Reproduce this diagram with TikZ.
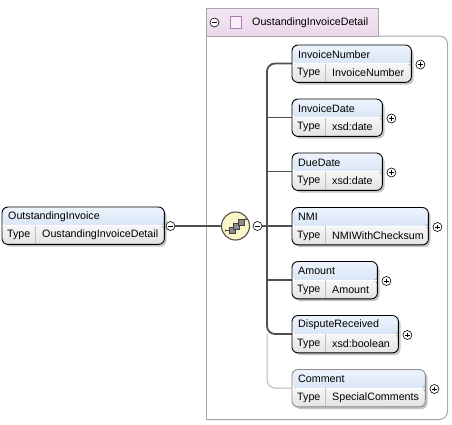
\documentclass[tikz,border=0pt]{standalone}
\usepackage{fontspec}
\setmainfont{Liberation Sans}
\usetikzlibrary{calc}
\pgfdeclarelayer{background}
\pgfsetlayers{background,main}
\definecolor{hdrtop}{HTML}{EEF4FC}
\definecolor{hdrbot}{HTML}{C5D8F1}
\definecolor{typetop}{HTML}{F6F6F6}
\definecolor{typebot}{HTML}{E2E2E2}
\definecolor{shadowc}{HTML}{C4C4C4}
\definecolor{framec}{HTML}{A8A8A8}
\definecolor{tabtop}{HTML}{F3E7F3}
\definecolor{tabbot}{HTML}{E9D6EA}
\definecolor{tabsq}{HTML}{B07CB0}
\definecolor{tabsqfill}{HTML}{F8F0F8}
\definecolor{seqfill}{HTML}{FAF6C6}
\definecolor{treec}{HTML}{505050}
\definecolor{optc}{HTML}{B8B8B8}
\definecolor{optbox}{HTML}{8C8C8C}
\tikzset{
  x=1pt, y=-1pt,
  lbl/.style={inner sep=0pt, anchor=west, font=\fontsize{10.7}{12}\selectfont},
  elem/.style={rectangle, rounded corners=6pt, inner sep=0pt, anchor=north west},
  expc/.style={circle, draw=black, fill=white, line width=0.6pt, minimum size=9pt, inner sep=0pt},
  pluss/.style={expc, path picture={
      \draw[line width=0.6pt] ([xshift=-2.3pt]path picture bounding box.center) -- ([xshift=2.3pt]path picture bounding box.center);
      \draw[line width=0.6pt] ([yshift=-2.3pt]path picture bounding box.center) -- ([yshift=2.3pt]path picture bounding box.center);}},
  minuss/.style={expc, path picture={
      \draw[line width=0.6pt] ([xshift=-2.3pt]path picture bounding box.center) -- ([xshift=2.3pt]path picture bounding box.center);}},
  tree/.style={draw=treec, line width=1.8pt},
  conn/.style={draw=treec, line width=1.2pt},
  optline/.style={draw=optc, line width=1pt},
  framel/.style={draw=framec, line width=1pt},
}
% #1 name, #2 x, #3 y, #4 width, #5 title, #6 type, #7 border colour
\newcommand{\elembox}[7]{%
  \fill[shadowc, rounded corners=6pt] (#2+2.5,#3+2.5) rectangle ++(#4,37);
  \node[elem, minimum width=#4pt, minimum height=37pt,
    path picture={
      \shade[top color=hdrtop, bottom color=hdrbot] ([yshift=1pt]path picture bounding box.north west) rectangle ([yshift=-18.5pt]path picture bounding box.north east);
      \shade[top color=typetop, bottom color=typebot] ([yshift=-18.5pt]path picture bounding box.north west) rectangle ([yshift=-1pt]path picture bounding box.south east);
      \draw[white, line width=0.8pt] ([yshift=-18.5pt]path picture bounding box.north west) -- ([yshift=-18.5pt]path picture bounding box.north east);
      \draw[black!25, line width=0.6pt] ([xshift=33pt,yshift=-18.5pt]path picture bounding box.north west) -- ([xshift=33pt]path picture bounding box.south west);
    }] (#1) at (#2,#3) {};
  \draw[draw=#7, line width=0.9pt, rounded corners=6pt] (#1.north west) rectangle (#1.south east);
  \node[lbl] (#1-name) at ([xshift=6pt,yshift=-9.5pt]#1.north west) {#5};
  \node[lbl] (#1-tl) at ([xshift=5pt,yshift=-28pt]#1.north west) {Type};
  \node[lbl] (#1-tv) at ([xshift=40pt,yshift=-28pt]#1.north west) {#6};
  \coordinate (#1-b) at ([yshift=-18.5pt]#1.north west);
}
\begin{document}
\begin{tikzpicture}
\useasboundingbox (0,0) rectangle (452,424);
\begin{pgfonlayer}{background}
\fill[white] (0,0) rectangle (452,424);
\end{pgfonlayer}

% group frame and tab
\draw[framel, rounded corners=8pt] (378,36) -- (447.5,36) -- (447.5,419.5) -- (206,419.5);
\draw[framel] (206,36) -- (206,419.5);
\node[rectangle, draw=framec, line width=1pt, top color=tabtop, bottom color=tabbot, minimum width=172pt, minimum height=28pt, anchor=north west, inner sep=0pt] (tab) at (206,8) {};
\node[minuss] (tab-m) at (214.5,22.5) {};
\node[rectangle, draw=tabsq, fill=tabsqfill, line width=0.8pt, minimum size=11.5pt, inner sep=0pt] (tab-sq) at (236,22.5) {};
\node[lbl] (tab-t) at (252,22.5) {OustandingInvoiceDetail};

% root element
\elembox{root}{2}{207}{162}{OutstandingInvoice}{OustandingInvoiceDetail}{black}
\node[minuss] (root-m) at (170.5,226) {};

% sequence compositor
\node[circle, draw=treec, fill=seqfill, line width=1.1pt, minimum size=28pt, inner sep=0pt] (seq) at (235.5,226) {};
\node[minuss] (seq-m) at (257.5,226) {};
\coordinate (trunk) at (267,226);

% child elements
\elembox{invnum}{292}{45}{119}{InvoiceNumber}{InvoiceNumber}{black}
\elembox{invdate}{292}{99}{90}{InvoiceDate}{xsd:date}{black}
\elembox{duedate}{292}{153}{90}{DueDate}{xsd:date}{black}
\elembox{nmi}{292}{207.5}{136}{NMI}{NMIWithChecksum}{black}
\elembox{amount}{292}{261.5}{85}{Amount}{Amount}{black}
\elembox{dispute}{292}{315.5}{106}{DisputeReceived}{xsd:boolean}{black}
\elembox{comment}{292}{369.5}{133}{Comment}{SpecialComments}{optbox}

\foreach \n in {invnum,invdate,duedate,nmi,amount,dispute,comment}{
  \node[pluss] (\n-p) at ([xshift=9pt,yshift=-19.5pt]\n.north east) {};
}

% sequence icon
\draw[treec, line width=0.8pt] (225.5,230.5) -- (229,230.5);
\draw[treec, line width=0.8pt] (243,221) -- (246,219);
\fill[treec] (246,219) circle (1pt);
\fill[treec] (225.5,230.5) circle (1pt);
\draw[black!75, fill=black!45, line width=0.6pt] (229,227) rectangle (235,233);
\draw[black!75, fill=black!45, line width=0.6pt] (233.5,223) rectangle (239.5,229);
\draw[black!75, fill=black!45, line width=0.6pt] (238,219) rectangle (244,225);

% connectors
\begin{pgfonlayer}{background}
\draw[optline, rounded corners=8pt] (trunk |- dispute-b) |- (comment-b);
\draw[tree, rounded corners=8pt] (invnum-b) -| (trunk) |- (dispute-b);
\foreach \n in {invdate,duedate,nmi,amount}{
  \draw[tree] (trunk |- \n-b) -- (\n-b);
}
\end{pgfonlayer}
\draw[conn] (root-m) -- (seq);
\draw[conn] (seq-m) -- (trunk);
\end{tikzpicture}
\end{document}
